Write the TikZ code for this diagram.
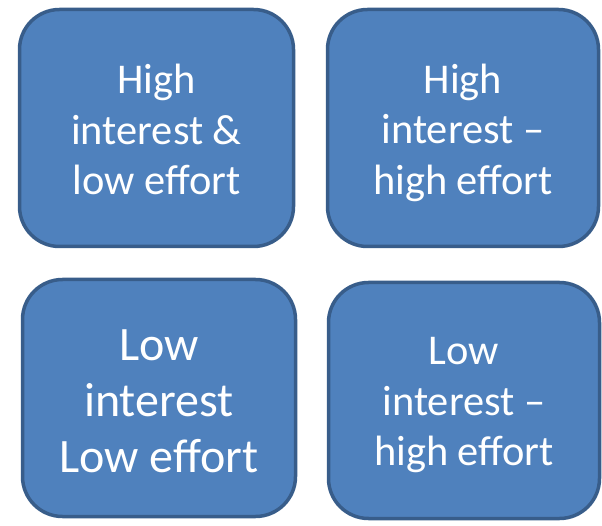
\documentclass[tikz,border=0pt]{standalone}
\usepackage{fontspec}
\setmainfont{Carlito}
\definecolor{boxfill}{HTML}{4F81BD}
\definecolor{boxline}{HTML}{385D8A}
\tikzset{
  quadbox/.style={draw=boxline, fill=boxfill, line width=3.5pt,
    rounded corners=40pt, inner sep=0pt},
  boxtext/.style={text=white, align=center, inner sep=0pt},
  normaltext/.style={boxtext, font=\fontsize{42.4}{50.5}\selectfont},
  bigtext/.style={boxtext, font=\fontsize{48}{56}\selectfont},
}
\begin{document}
\begin{tikzpicture}[x=1pt,y=-1pt]
  \useasboundingbox (0,0) rectangle (602,526);
  \node[quadbox, minimum width=274pt, minimum height=237pt,
    label={[normaltext, yshift=-1.5pt]center:{High\\interest \&\\low effort}}]
    (hilo) at (156.5,128) {};
  \node[quadbox, minimum width=271pt, minimum height=237pt,
    label={[normaltext, yshift=-4.5pt]center:{High\\interest –\\high effort}}]
    (hihi) at (463,128) {};
  \node[quadbox, minimum width=273pt, minimum height=237pt,
    label={[bigtext, yshift=-3.5pt]center:{Low\\interest\\Low effort}}]
    (lolo) at (159,398) {};
  \node[quadbox, minimum width=271pt, minimum height=236pt,
    label={[normaltext, yshift=-5pt]center:{Low\\interest –\\high effort}}]
    (lohi) at (464,400.5) {};
\end{tikzpicture}
\end{document}
